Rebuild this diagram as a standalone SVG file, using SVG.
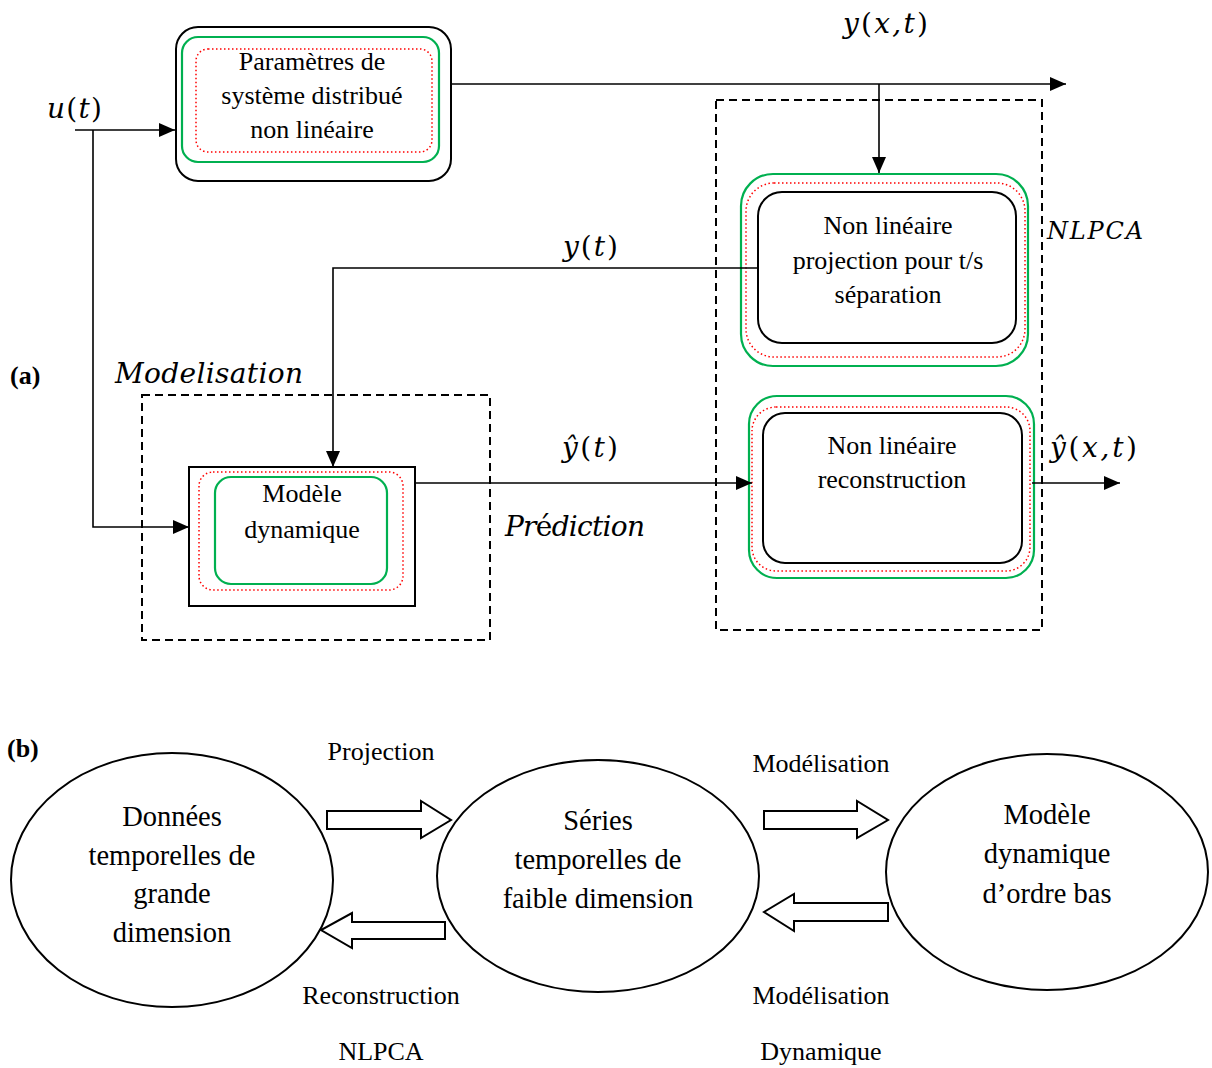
<svg xmlns="http://www.w3.org/2000/svg" width="1212" height="1068" viewBox="0 0 1212 1068">
<style>
.t{font-family:"Liberation Serif","Times New Roman",serif;font-size:26px;fill:#000;text-anchor:middle}
.tb{font-family:"Liberation Serif","Times New Roman",serif;font-size:26px;font-weight:bold;fill:#000}
.e{font-family:"Liberation Serif","Times New Roman",serif;font-size:28.5px;fill:#000;text-anchor:middle}
.m{font-family:"DejaVu Serif",serif;font-size:28px;font-style:italic;fill:#000}
.ms{font-size:24px}
.u{font-style:normal}
.blk{fill:none;stroke:#000;stroke-width:2}
.grn{fill:none;stroke:#00B050;stroke-width:2.2}
.red{fill:none;stroke:#FF0000;stroke-width:1.5;stroke-dasharray:1.5 2.5}
.dash{fill:none;stroke:#000;stroke-width:2;stroke-dasharray:8 5}
.ln{fill:none;stroke:#000;stroke-width:1.6}
.ba{fill:#fff;stroke:#000;stroke-width:2;stroke-linejoin:miter}
.ell{fill:#fff;stroke:#000;stroke-width:2}
</style>
<defs>
<marker id="arr" markerUnits="userSpaceOnUse" markerWidth="17" markerHeight="14" refX="16" refY="7" orient="auto">
<path d="M0,0 L16,7 L0,14 Z" fill="#000"/>
</marker>
</defs>

<!-- Part (a) -->
<text class="tb" x="10" y="384">(a)</text>

<g id="modelisation-group">
<rect class="dash" x="142" y="395" width="348" height="245"/>
<text class="m" x="115" y="383" textLength="188" lengthAdjust="spacing">Modelisation</text>
</g>

<g id="nlpca-group">
<rect class="dash" x="716" y="100" width="326" height="530"/>
<text class="m ms" x="1047" y="239" textLength="96" lengthAdjust="spacing">NLPCA</text>
</g>

<g id="node-systeme">
<rect class="blk" x="176" y="27" width="275" height="154" rx="22"/>
<rect class="grn" x="182" y="37" width="257" height="125" rx="16"/>
<rect class="red" x="196" y="49" width="236" height="103" rx="12"/>
<text class="t" x="312" y="70">Paramètres de</text>
<text class="t" x="312" y="104">système distribué</text>
<text class="t" x="312" y="138">non linéaire</text>
</g>

<g id="node-modele">
<rect class="blk" x="189" y="467" width="226" height="139"/>
<rect class="red" x="199" y="472" width="204" height="118" rx="14"/>
<rect class="grn" x="215" y="477" width="172" height="107" rx="16"/>
<text class="t" x="302" y="502">Modèle</text>
<text class="t" x="302" y="538">dynamique</text>
</g>

<g id="node-projection">
<rect class="grn" x="741" y="174" width="287" height="192" rx="32"/>
<rect class="red" x="746" y="183" width="279" height="174" rx="28"/>
<rect class="blk" x="758" y="192" width="258" height="151" rx="24"/>
<text class="t" x="888" y="234">Non linéaire</text>
<text class="t" x="888" y="269">projection pour t/s</text>
<text class="t" x="888" y="303">séparation</text>
</g>

<g id="node-reconstruction">
<rect class="grn" x="749" y="396" width="285" height="182" rx="28"/>
<rect class="red" x="752" y="407" width="278" height="164" rx="24"/>
<rect class="blk" x="763" y="413" width="259" height="150" rx="22"/>
<text class="t" x="892" y="454">Non linéaire</text>
<text class="t" x="892" y="488">reconstruction</text>
</g>

<g id="connectors">
<path class="ln" d="M75,130 L175,130" marker-end="url(#arr)"/>
<path class="ln" d="M93,130 L93,527 L189,527" marker-end="url(#arr)"/>
<path class="ln" d="M451,84 L1066,84" marker-end="url(#arr)"/>
<path class="ln" d="M879,84 L879,173" marker-end="url(#arr)"/>
<path class="ln" d="M757,268 L333,268 L333,467" marker-end="url(#arr)"/>
<path class="ln" d="M415,483 L752,483" marker-end="url(#arr)"/>
<path class="ln" d="M1032,483 L1120,483" marker-end="url(#arr)"/>
</g>

<g id="labels-a">
<text class="m" x="47" y="118" textLength="55" lengthAdjust="spacing">u<tspan class="u">(</tspan>t<tspan class="u">)</tspan></text>
<text class="m" x="843" y="33" textLength="85" lengthAdjust="spacing">y<tspan class="u">(</tspan>x,t<tspan class="u">)</tspan></text>
<text class="m" x="563" y="256" textLength="55" lengthAdjust="spacing">y<tspan class="u">(</tspan>t<tspan class="u">)</tspan></text>
<text class="m" x="562" y="457" textLength="56" lengthAdjust="spacing">ŷ<tspan class="u">(</tspan>t<tspan class="u">)</tspan></text>
<text class="m" x="1050" y="457" textLength="87" lengthAdjust="spacing">ŷ<tspan class="u">(</tspan>x,t<tspan class="u">)</tspan></text>
<text class="m" x="505" y="536" textLength="140" lengthAdjust="spacing">Pr<tspan class="u">é</tspan>diction</text>
</g>

<!-- Part (b) -->
<text class="tb" x="7" y="757">(b)</text>

<g id="node-donnees">
<ellipse class="ell" cx="172" cy="880" rx="161" ry="127"/>
<text class="e" x="172" y="826">Données</text>
<text class="e" x="172" y="865">temporelles de</text>
<text class="e" x="172" y="903">grande</text>
<text class="e" x="172" y="942">dimension</text>
</g>

<g id="node-series">
<ellipse class="ell" cx="598" cy="876" rx="161" ry="116"/>
<text class="e" x="598" y="830">Séries</text>
<text class="e" x="598" y="869">temporelles de</text>
<text class="e" x="598" y="908">faible dimension</text>
</g>

<g id="node-modele-bas">
<ellipse class="ell" cx="1047" cy="872" rx="161" ry="118"/>
<text class="e" x="1047" y="824">Modèle</text>
<text class="e" x="1047" y="863">dynamique</text>
<text class="e" x="1047" y="903">d’ordre bas</text>
</g>

<g id="block-arrows">
<path class="ba" d="M327,811 L421,811 L421,801 L451,820 L421,838 L421,829 L327,829 Z"/>
<path class="ba" d="M764,811 L857,811 L857,801 L888,820 L857,838 L857,829 L764,829 Z"/>
<path class="ba" d="M445,922 L352,922 L352,913 L321,930 L352,948 L352,939 L445,939 Z"/>
<path class="ba" d="M888,903 L794,903 L794,894 L764,912 L794,931 L794,921 L888,921 Z"/>
</g>

<g id="labels-b">
<text class="t" x="381" y="760">Projection</text>
<text class="t" x="821" y="772">Modélisation</text>
<text class="t" x="381" y="1004">Reconstruction</text>
<text class="t" x="381" y="1060">NLPCA</text>
<text class="t" x="821" y="1004">Modélisation</text>
<text class="t" x="821" y="1060">Dynamique</text>
</g>
</svg>
